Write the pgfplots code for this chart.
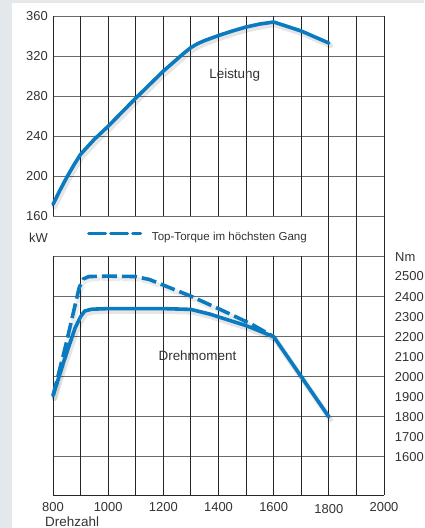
\documentclass[border=0pt]{standalone}
\usepackage{fontspec}
\setmainfont{Liberation Sans}
\usepackage{pgfplots}
\usepackage{pgfplotstable}
\pgfplotsset{compat=1.18}
\definecolor{bgray}{HTML}{E4E8EB}
\definecolor{cblue}{HTML}{0A7BC0}
\definecolor{vgrid}{HTML}{262626}
\definecolor{hgrid}{HTML}{6A6A6A}
\definecolor{txt}{HTML}{333333}

\pgfplotstableread{
rpm kw
800 172
825 186
850 199
875 211
900 222
950 237
1000 250
1100 278
1200 305
1250 317
1275 323
1300 328.5
1325 332.5
1350 335.5
1400 340.5
1450 345
1500 349
1550 352
1600 354
1700 345
1800 333
}\leistung

\pgfplotstableread{
rpm nm
800 1905
840 2080
880 2243
900 2300
915 2328
940 2337
1000 2340
1200 2340
1300 2336
1370 2312
1500 2255
1600 2200
1700 2000
1800 1800
}\drehmoment

\pgfplotstableread{
rpm nm
800 1905
845 2150
895 2445
910 2488
930 2500
1000 2502
1100 2500
1150 2485
1240 2435
1300 2402
1420 2327
1520 2262
1600 2200
}\toptorque

\begin{document}
\begin{tikzpicture}[x=1bp,y=1bp]
\useasboundingbox (0,0) rectangle (424,528);
\fill[bgray] (0,0) rectangle (424,528);
\fill[white] (12,0) rectangle (424,525);
\begin{axis}[
  scale only axis, width=331bp, height=479bp,
  at={(53bp,33bp)}, anchor=south west,
  xmin=800, xmax=2000, ymin=-118, ymax=360,
  axis line style={draw=none},
  major tick length=0pt,
  xtick={800,1000,...,2000},
  xticklabels={800,1000,1200,1400,1600,\raisebox{-2bp}{1800},2000},
  ytick={160,200,...,360},
  /pgf/number format/assume math mode=true,
  /pgf/number format/1000 sep={},
  scaled ticks=false,
  ticklabel style={font=\fontsize{13}{15}\selectfont, text=txt, inner sep=0pt},
  xticklabel style={anchor=base, yshift=-16.7bp},
  yticklabel style={anchor=east, xshift=-5bp},
  clip=false,
]
\pgfplotsinvokeforeach{-80,-40,...,360}{
  \draw[hgrid, line width=0.9bp] (axis cs:800,#1) -- (axis cs:2000,#1);
}
\pgfplotsinvokeforeach{800,900,...,1700}{
  \draw[vgrid, line width=0.9bp] (axis cs:#1,-118) -- (axis cs:#1,120);
  \draw[vgrid, line width=0.9bp] (axis cs:#1,160) -- (axis cs:#1,360);
}
\pgfplotsinvokeforeach{1800,1900,2000}{
  \draw[vgrid, line width=0.9bp] (axis cs:#1,-118) -- (axis cs:#1,360);
}
\draw[vgrid, line width=0.9bp, line cap=rect] (axis cs:800,-118) -- (axis cs:2000,-118);

\addplot[black, opacity=0.10, line width=5.5bp, line cap=round, line join=round, xshift=1.5bp, yshift=-2.5bp, forget plot] table[x=rpm, y=kw] {\leistung};
\addplot[cblue, line width=3.6bp, line cap=round, line join=round, forget plot] table[x=rpm, y=kw] {\leistung};

\node[anchor=base west, inner sep=0pt, font=\fontsize{13.5}{15}\selectfont, text=txt] at (axis cs:1366,298) {Leistung};
\node[anchor=base west, inner sep=0pt, font=\fontsize{13.5}{15}\selectfont, text=txt] at (axis cs:1182,16) {Drehmoment};
\node[anchor=base east, inner sep=0pt, font=\fontsize{13}{15}\selectfont, text=txt] at (axis cs:782,134.3) {kW};
\node[anchor=base west, inner sep=0pt, font=\fontsize{13}{15}\selectfont, text=txt] at (axis cs:2040,115) {Nm};
\node[anchor=base west, inner sep=0pt, font=\fontsize{13.5}{15}\selectfont, text=txt] at (axis cs:771,-149.5) {Drehzahl};
\end{axis}

\begin{axis}[
  scale only axis, width=331bp, height=479bp,
  at={(53bp,33bp)}, anchor=south west,
  xmin=800, xmax=2000, ymin=1410, ymax=3800,
  hide x axis,
  axis y line*=right,
  axis line style={draw=none},
  major tick length=0pt,
  ytick={1600,1700,...,2500},
  /pgf/number format/assume math mode=true,
  /pgf/number format/1000 sep={},
  scaled ticks=false,
  yticklabel style={font=\fontsize{13}{15}\selectfont, text=txt, inner sep=0pt, anchor=west, xshift=10.7bp},
  clip=false,
  legend style={at={(0.1027,0.5386)}, anchor=west, draw=none, fill=none, inner sep=0pt, outer sep=0pt,
    font=\fontsize{11.6}{13}\selectfont, text=txt, nodes={inner sep=0pt}},
  legend image code/.code={\draw[#1, line width=3.2bp, line cap=round, dash pattern=on 17bp off 5bp on 17bp off 5bp on 8bp] (1.6bp,3.8bp) -- (54.4bp,3.8bp);},
]
\addplot[black, opacity=0.10, line width=5.5bp, line cap=round, line join=round, xshift=1.5bp, yshift=-2.5bp, forget plot] table[x=rpm, y=nm] {\drehmoment};
\addplot[black, opacity=0.08, line width=5bp, line cap=round, line join=round, xshift=1.5bp, yshift=-2.5bp, forget plot, dash pattern=on 15bp off 5bp] table[x=rpm, y=nm] {\toptorque};
\addplot[cblue, line width=3.6bp, line cap=round, line join=round, forget plot] table[x=rpm, y=nm] {\drehmoment};
\addplot[cblue, line width=3.6bp, line join=round, dash pattern=on 15bp off 5bp] table[x=rpm, y=nm] {\toptorque};
\addlegendentry{\hspace*{9bp}Top-Torque im höchsten Gang}
\end{axis}
\end{tikzpicture}
\end{document}
